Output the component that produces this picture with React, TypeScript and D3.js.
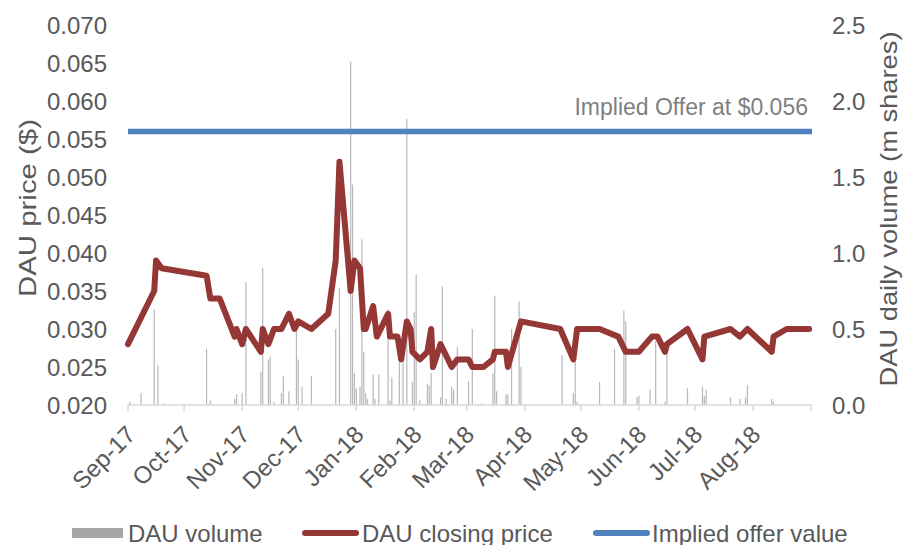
import React, { useRef, useEffect } from "react";
import * as d3 from "d3";

// closing price ($) on trading days
const priceSeries: [string, number][] = [
  ["2017-09-01", 0.028], ["2017-09-15", 0.035], ["2017-09-16", 0.039], ["2017-09-19", 0.038],
  ["2017-10-13", 0.037], ["2017-10-15", 0.034], ["2017-10-20", 0.034], ["2017-10-28", 0.029],
  ["2017-10-29", 0.030], ["2017-11-01", 0.028], ["2017-11-03", 0.030], ["2017-11-11", 0.027],
  ["2017-11-12", 0.030], ["2017-11-15", 0.028], ["2017-11-18", 0.030], ["2017-11-22", 0.030],
  ["2017-11-26", 0.032], ["2017-11-29", 0.030], ["2017-12-01", 0.031], ["2017-12-08", 0.030],
  ["2017-12-17", 0.032], ["2017-12-21", 0.039], ["2017-12-23", 0.052], ["2017-12-29", 0.035],
  ["2017-12-31", 0.039], ["2018-01-03", 0.038], ["2018-01-05", 0.030], ["2018-01-06", 0.030],
  ["2018-01-10", 0.033], ["2018-01-12", 0.029], ["2018-01-18", 0.032], ["2018-01-19", 0.029],
  ["2018-01-23", 0.029], ["2018-01-25", 0.026], ["2018-01-28", 0.031], ["2018-01-30", 0.030],
  ["2018-01-31", 0.027], ["2018-02-04", 0.026], ["2018-02-08", 0.027], ["2018-02-10", 0.030],
  ["2018-02-11", 0.025], ["2018-02-15", 0.028], ["2018-02-21", 0.025], ["2018-02-24", 0.026],
  ["2018-03-02", 0.026], ["2018-03-04", 0.025], ["2018-03-10", 0.025], ["2018-03-15", 0.026],
  ["2018-03-16", 0.027], ["2018-03-22", 0.027], ["2018-03-23", 0.025], ["2018-03-30", 0.031],
  ["2018-04-20", 0.030], ["2018-04-27", 0.026], ["2018-04-29", 0.030], ["2018-05-11", 0.030],
  ["2018-05-21", 0.029], ["2018-05-25", 0.027], ["2018-06-01", 0.027], ["2018-06-08", 0.029],
  ["2018-06-11", 0.029], ["2018-06-15", 0.027], ["2018-06-16", 0.028], ["2018-06-27", 0.030],
  ["2018-07-05", 0.026], ["2018-07-06", 0.029], ["2018-07-20", 0.030], ["2018-07-25", 0.029],
  ["2018-07-29", 0.030], ["2018-08-11", 0.027], ["2018-08-12", 0.029], ["2018-08-19", 0.030],
  ["2018-08-31", 0.030],
];

// daily volume (m shares)
const volumeSeries: [string, number][] = [
  ["2017-09-02", 0.02], ["2017-09-08", 0.08], ["2017-09-15", 0.63], ["2017-09-17", 0.26],
  ["2017-09-20", 0.01], ["2017-10-13", 0.37], ["2017-10-15", 0.03], ["2017-10-28", 0.04],
  ["2017-10-29", 0.07], ["2017-11-01", 0.08], ["2017-11-03", 0.81], ["2017-11-11", 0.22],
  ["2017-11-12", 0.90], ["2017-11-15", 0.30], ["2017-11-16", 0.32], ["2017-11-18", 0.02],
  ["2017-11-22", 0.08], ["2017-11-23", 0.19], ["2017-11-26", 0.09], ["2017-11-30", 0.55],
  ["2017-12-01", 0.30], ["2017-12-03", 0.12], ["2017-12-08", 0.19], ["2017-12-21", 0.50],
  ["2017-12-23", 0.77], ["2017-12-29", 2.26], ["2017-12-30", 1.45], ["2017-12-31", 0.21],
  ["2018-01-01", 0.11], ["2018-01-03", 0.12], ["2018-01-04", 1.09], ["2018-01-05", 0.35],
  ["2018-01-06", 0.08], ["2018-01-07", 0.04], ["2018-01-10", 0.20], ["2018-01-11", 0.04],
  ["2018-01-13", 0.20], ["2018-01-18", 0.63], ["2018-01-19", 0.03], ["2018-01-20", 0.18],
  ["2018-01-24", 0.28], ["2018-01-26", 0.38], ["2018-01-28", 1.88], ["2018-01-31", 0.15],
  ["2018-02-01", 0.61], ["2018-02-02", 0.86], ["2018-02-04", 0.03], ["2018-02-08", 0.14],
  ["2018-02-09", 0.13], ["2018-02-10", 0.21], ["2018-02-15", 0.05], ["2018-02-16", 0.78],
  ["2018-02-18", 0.04], ["2018-02-21", 0.12], ["2018-02-22", 0.10], ["2018-02-24", 0.38],
  ["2018-03-02", 0.16], ["2018-03-04", 0.50], ["2018-03-09", 0.01], ["2018-03-15", 0.21],
  ["2018-03-16", 0.72], ["2018-03-17", 0.09], ["2018-03-22", 0.07], ["2018-03-23", 0.07],
  ["2018-03-25", 0.50], ["2018-03-29", 0.68], ["2018-03-30", 0.25], ["2018-04-21", 0.33],
  ["2018-04-27", 0.08], ["2018-04-28", 0.31], ["2018-04-29", 0.02], ["2018-05-11", 0.15],
  ["2018-05-19", 0.37], ["2018-05-24", 0.62], ["2018-05-25", 0.55], ["2018-05-31", 0.05],
  ["2018-06-01", 0.06], ["2018-06-07", 0.10], ["2018-06-10", 0.42], ["2018-06-15", 0.02],
  ["2018-06-16", 0.34], ["2018-06-27", 0.11], ["2018-07-05", 0.12], ["2018-07-06", 0.06],
  ["2018-07-07", 0.10], ["2018-07-20", 0.05], ["2018-07-25", 0.04], ["2018-07-28", 0.05],
  ["2018-07-29", 0.13], ["2018-08-11", 0.04], ["2018-08-12", 0.02],
];

const impliedOffer = 0.056;
const priceTicks = [0.02, 0.025, 0.03, 0.035, 0.04, 0.045, 0.05, 0.055, 0.06, 0.065, 0.07];
const volumeTicks = [0, 0.5, 1, 1.5, 2, 2.5];
const legendItems = ["DAU volume", "DAU closing price", "Implied offer value"];

const FONT = "'Liberation Sans', Arial, sans-serif";
const TEXT = "#595959";

const App = () => {
  const ref = useRef<SVGSVGElement>(null);

  useEffect(() => {
    const svg = d3.select(ref.current);
    svg.selectAll("*").remove();

    const parse = d3.timeParse("%Y-%m-%d");
    const left = 128, right = 811, top = 25, bottom = 405;

    const x = d3.scaleTime()
      .domain([parse("2017-09-01")!, parse("2018-09-01")!])
      .range([left, right]);
    const yPrice = d3.scaleLinear().domain([0.02, 0.07]).range([bottom, top]);
    const yVol = d3.scaleLinear().domain([0, 2.5]).range([bottom, top]);

    // volume bars
    svg.append("g")
      .selectAll("rect")
      .data(volumeSeries)
      .enter()
      .append("rect")
      .attr("x", (d) => x(parse(d[0])!) - 0.6)
      .attr("y", (d) => yVol(d[1]))
      .attr("width", 1.2)
      .attr("height", (d) => bottom - yVol(d[1]))
      .style("fill", "#b8b8b8");

    // x axis line + month ticks
    svg.append("line")
      .attr("x1", left).attr("x2", right + 1)
      .attr("y1", bottom).attr("y2", bottom)
      .style("stroke", "#d9d9d9").style("stroke-width", 1.5);

    const months = d3.timeMonth.range(parse("2017-09-01")!, parse("2018-09-02")!);
    svg.append("g")
      .selectAll("line")
      .data(months)
      .enter()
      .append("line")
      .attr("x1", (d) => x(d)).attr("x2", (d) => x(d))
      .attr("y1", bottom).attr("y2", bottom + 6)
      .style("stroke", "#d9d9d9").style("stroke-width", 1.5);

    svg.append("g")
      .selectAll("text")
      .data(months.slice(0, 12))
      .enter()
      .append("text")
      .attr("transform", (d) => `translate(${x(d) + 3},${bottom + 25}) rotate(-45)`)
      .attr("text-anchor", "end")
      .attr("dominant-baseline", "central")
      .style("font-family", FONT).style("font-size", "24px").style("fill", TEXT)
      .text((d) => d3.timeFormat("%b-%y")(d));

    // implied offer line
    svg.append("line")
      .attr("x1", left).attr("x2", right + 1)
      .attr("y1", yPrice(impliedOffer)).attr("y2", yPrice(impliedOffer))
      .style("stroke", "#4f81bd").style("stroke-width", 5.5);

    svg.append("text")
      .attr("x", 808).attr("y", 115)
      .attr("text-anchor", "end")
      .style("font-family", FONT).style("font-size", "23px").style("fill", "#7f7f7f")
      .text("Implied Offer at $0.056");

    // price line
    const line = d3.line<[string, number]>()
      .x((d) => x(parse(d[0])!))
      .y((d) => yPrice(d[1]));

    svg.append("path")
      .datum(priceSeries)
      .attr("d", line)
      .style("fill", "none")
      .style("stroke", "#953735")
      .style("stroke-width", 6)
      .style("stroke-linejoin", "round")
      .style("stroke-linecap", "round");

    // left axis labels
    svg.append("g")
      .selectAll("text")
      .data(priceTicks)
      .enter()
      .append("text")
      .attr("x", 107).attr("y", (d) => yPrice(d))
      .attr("text-anchor", "end")
      .attr("dominant-baseline", "central")
      .style("font-family", FONT).style("font-size", "24px").style("fill", TEXT)
      .text((d) => d3.format(".3f")(d));

    // right axis labels
    svg.append("g")
      .selectAll("text")
      .data(volumeTicks)
      .enter()
      .append("text")
      .attr("x", 832).attr("y", (d) => yVol(d))
      .attr("dominant-baseline", "central")
      .style("font-family", FONT).style("font-size", "24px").style("fill", TEXT)
      .text((d) => d3.format(".1f")(d));

    // axis titles
    svg.append("text")
      .attr("transform", "translate(27,208) rotate(-90)")
      .attr("text-anchor", "middle")
      .attr("dominant-baseline", "central")
      .attr("textLength", 178)
      .attr("lengthAdjust", "spacingAndGlyphs")
      .style("font-family", FONT).style("font-size", "24px").style("fill", TEXT)
      .text("DAU price ($)");

    svg.append("text")
      .attr("transform", "translate(888,209) rotate(-90)")
      .attr("text-anchor", "middle")
      .attr("dominant-baseline", "central")
      .attr("textLength", 355)
      .attr("lengthAdjust", "spacingAndGlyphs")
      .style("font-family", FONT).style("font-size", "24px").style("fill", TEXT)
      .text("DAU daily volume (m shares)");

    // legend (sits at the bottom edge, as in the source)
    const lg = svg.append("g");
    lg.append("rect")
      .attr("x", 72).attr("y", 528).attr("width", 51).attr("height", 10)
      .style("fill", "#a6a6a6");
    lg.append("line")
      .attr("x1", 305).attr("x2", 356).attr("y1", 533).attr("y2", 533)
      .style("stroke", "#953735").style("stroke-width", 6).style("stroke-linecap", "round");
    lg.append("line")
      .attr("x1", 596).attr("x2", 647).attr("y1", 533).attr("y2", 533)
      .style("stroke", "#4f81bd").style("stroke-width", 6).style("stroke-linecap", "round");
    const legendX = [128, 362, 652];
    lg.selectAll("text")
      .data(legendItems)
      .enter()
      .append("text")
      .attr("x", (_, i) => legendX[i])
      .attr("y", 542)
      .style("font-family", FONT).style("font-size", "24px").style("fill", TEXT)
      .text((d) => d);
  }, []);

  return (
    <div style={{ position: "absolute", left: 0, top: 0 }}>
      <svg ref={ref} width={904} height={545} style={{ display: "block", background: "#fff" }} />
    </div>
  );
};

export default App;
